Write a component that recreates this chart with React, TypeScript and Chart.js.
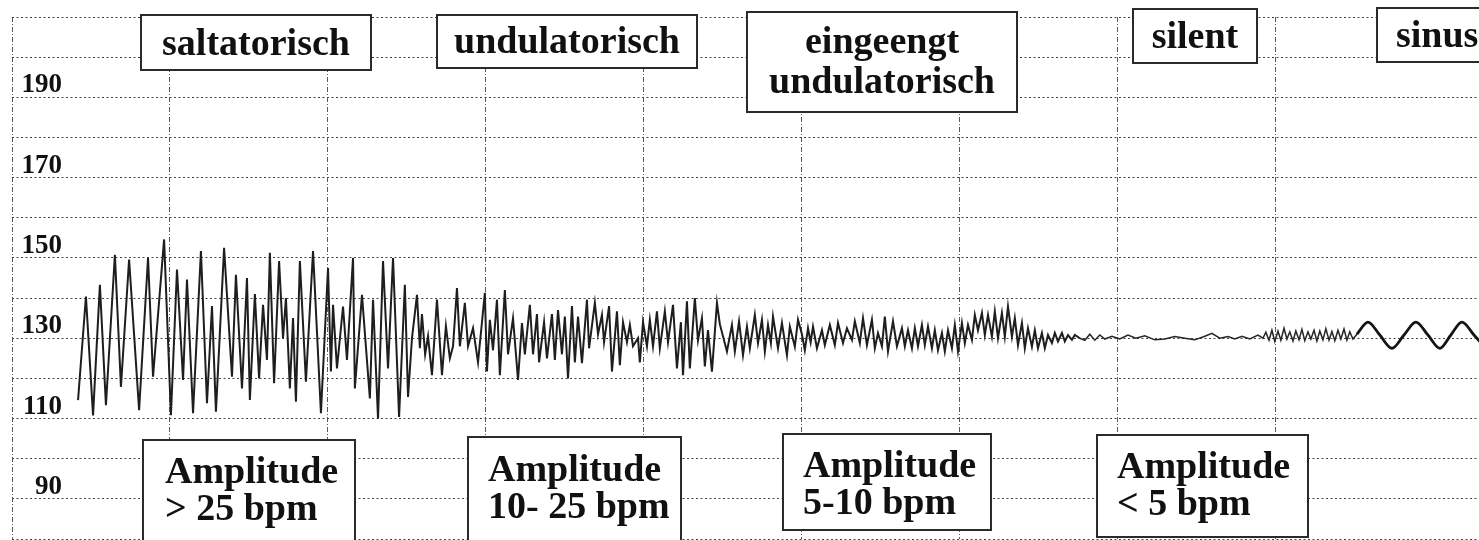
import React, { useEffect, useRef } from "react";
import { Chart, registerables } from "chart.js";

Chart.register(...registerables);

// ---- data (time in seconds, FHR in bpm) ----
const yTickLabels = [90, 110, 130, 150, 170, 190];

const saltatorischTrace: [number, number][] = [
  [25.1, 114.6], [28.1, 140.4], [30.8, 110.8], [33.4, 143.3], [35.7, 113.3], [39.1, 150.8], [41.4, 117.9],
  [44.5, 149.6], [48.3, 112.1], [51.7, 150], [53.6, 120.4], [57.8, 154.6], [60.4, 110.8], [62.7, 147.1],
  [65.0, 119.6], [66.5, 144.6], [68.8, 111.3], [71.8, 151.7], [74.1, 113.8], [76.0, 138], [77.5, 111.7],
  [80.6, 152.5], [83.6, 120.4], [85.1, 145.8], [87.4, 117.5], [89.3, 145], [90.4, 114.6], [92.3, 141],
  [93.9, 120], [95.4, 138.3], [96.9, 124.6], [98.0, 151.3], [99.6, 118.8], [101.5, 149.2], [103.0, 130],
  [104.1, 140], [105.6, 117.5], [106.8, 135], [107.9, 114.2], [109.4, 149.2], [111.7, 119.2], [114.4, 151.7],
  [117.4, 111.3], [120.1, 147.5], [121.2, 121.7], [122.0, 138.3], [123.5, 122.5], [125.8, 137.9], [127.3, 124.6],
  [129.6, 150], [130.3, 117.5], [133.0, 140.8], [136.0, 115], [137.2, 139.6], [139.1, 110], [141.0, 149.2],
  [142.9, 122.5], [144.8, 150], [147.1, 110.4], [149.3, 143.3], [150.5, 115.4],
];

const undulatorischTrace: [number, number][] = [
  [152.0, 130], [153.9, 140.8], [155.0, 127.5], [155.8, 136], [157.0, 126], [158.1, 130.5], [159.6, 120.8],
  [161.5, 139.6], [163.4, 120.8], [164.9, 133], [166.4, 125], [167.6, 128], [169.1, 142.5], [170.2, 128],
  [172.1, 138.8], [173.3, 128], [175.2, 132.5], [177.1, 124], [179.7, 141.3], [180.5, 121.7], [181.6, 134.6],
  [182.8, 127], [184.3, 139.6], [185.4, 120.8], [187.3, 142], [188.5, 126], [190.4, 135], [192.3, 119.6],
  [193.8, 133.8], [194.9, 126], [196.8, 138.3], [198.0, 126], [199.5, 136], [200.3, 124], [202.2, 134],
  [203.3, 125], [205.2, 136], [206.3, 124.6], [207.5, 137], [209.0, 126], [210.1, 135.4], [211.3, 120],
  [212.8, 138], [213.9, 124], [215.1, 135.4], [216.6, 123.8], [218.5, 139.6], [219.3, 127.5], [221.5, 138.8],
  [222.7, 131], [224.2, 135.8], [225.0, 129], [226.9, 138], [228.0, 121.7], [229.9, 136.7], [231.0, 123.3],
  [232.2, 134], [233.7, 129], [234.8, 133.3], [236.0, 128], [237.9, 130], [238.6, 124], [239.8, 134],
  [241.3, 128], [242.4, 134.6], [243.6, 128], [245.1, 136.7], [246.2, 127.5], [248.1, 136.7], [249.3, 129],
  [251.2, 138.3], [252.7, 122.5], [254.2, 134], [255.0, 120.8], [256.5, 139.2], [257.6, 122.5], [259.5, 140],
  [260.7, 129.5], [262.2, 135], [263.3, 123], [264.5, 132], [266.0, 121.7], [267.9, 138.8], [269.0, 133.5],
];

const eingeengtTrace: [number, number][] = [
  [271.7, 126.7], [273.6, 133.3], [274.7, 126.7], [276.3, 134.2], [277.8, 125.8], [279.3, 132.9], [280.4, 127.5],
  [282.3, 135.8], [283.5, 128.8], [285.0, 134.6], [286.1, 126.7], [287.3, 133.3], [288.4, 128.8], [289.2, 135.4],
  [291.1, 127.5], [292.6, 133.8], [294.5, 125.8], [295.6, 132.9], [297.5, 127.9], [298.7, 134.6], [300.2, 131],
  [301.3, 127], [302.5, 132.5], [303.5, 129], [304.4, 132.9], [305.9, 127.5], [307.8, 132], [308.9, 128.3],
  [310.8, 133.3], [312.7, 128.3], [313.9, 133.8], [315.8, 128.8], [317.3, 132.5], [319.2, 129.6], [320.3, 134.2],
  [322.2, 128.8], [323.4, 135], [324.9, 128.3], [326.8, 134.6], [327.9, 127.5], [329.1, 131.3], [330.6, 128],
  [331.7, 135.4], [332.9, 126.7], [334.8, 134.2], [336.3, 128], [338.2, 132.5], [339.3, 128], [340.5, 132],
  [342.0, 127.5], [343.1, 132.5], [344.3, 128], [345.8, 133.3], [346.9, 128.3], [348.1, 132.9], [349.6, 127.5],
  [350.7, 132], [351.9, 127], [353.4, 131.3], [354.5, 126.7], [355.7, 132], [357.2, 127.5], [358.3, 133.3],
  [359.5, 126.7], [361.0, 133.8], [362.1, 128.8], [363.3, 133.3], [364.8, 129.6], [365.9, 135.8], [367.1, 132],
  [368.6, 136.3], [369.7, 130.8], [370.9, 135.8], [372.4, 130.4], [373.5, 136.7], [374.7, 130], [376.2, 136.3],
  [377.3, 130.4], [378.5, 137.9], [380.0, 130.4], [381.1, 135], [382.3, 128.3], [383.8, 133.8], [384.9, 127.5],
  [386.1, 132.5], [387.6, 127.9], [388.7, 132], [389.9, 127.5], [391.4, 131.3], [392.5, 127.5], [393.7, 130.8],
  [395.2, 128.8], [396.3, 131.3], [397.5, 129.2], [399.0, 131.3], [400.1, 129.2], [401.3, 130.8], [402.8, 129.6],
  [403.9, 130.8], [405.8, 130],
];

const silentTrace: [number, number][] = [
  [407.7, 129.5], [409.6, 131], [411.5, 129.5], [413.4, 130.8], [415.3, 129.8], [418.0, 130.5], [421.0, 129.8],
  [424.1, 130.8], [427.1, 130], [430.5, 130.6], [434.3, 129.6], [438.1, 129.8], [441.9, 130.4], [445.7, 130],
  [449.5, 129.6], [453.3, 130.5], [456.0, 131.2], [459.0, 130], [462.1, 130.4], [464.7, 129.8], [467.4, 130.5],
  [470.4, 129.8], [473.5, 130.8], [475.4, 130],
  [476.5, 131.5], [477.7, 129.5], [478.8, 132], [479.9, 129.2], [481.1, 131.8], [482.2, 129.5], [483.4, 132.5],
  [484.5, 129.8], [485.6, 131.6], [486.8, 129.3], [487.9, 131.8], [489.1, 129.6], [490.2, 132.2], [491.3, 129.4],
  [492.5, 131.6], [493.6, 129.8], [494.8, 132], [495.9, 129.3], [497.0, 131.8], [498.2, 129.6], [499.3, 132.4],
  [500.5, 129.5], [501.6, 131.7], [502.7, 129.4], [503.9, 132], [505.0, 129.8], [506.2, 132.3], [507.3, 129.5],
  [508.4, 131.6], [509.6, 129.8], [511.1, 131],
];

const sinusTrace: [number, number][] = [
  [515.3, 134], [519.8, 130.8], [524.4, 127.5], [529.0, 130.8], [533.5, 134], [538.1, 130.8],
  [542.6, 127.5], [546.8, 130.8], [551.0, 134], [555.6, 130.8], [560.1, 127.5],
];

const topLabelLines: string[][] = [
  ["saltatorisch"],
  ["undulatorisch"],
  ["eingeengt", "undulatorisch"],
  ["silent"],
  ["sinusoidal"],
];

const bottomLabelLines: string[][] = [
  ["Amplitude", "> 25 bpm"],
  ["Amplitude", "10- 25 bpm"],
  ["Amplitude", "5-10 bpm"],
  ["Amplitude", "< 5 bpm"],
];

// ---- layout (pixels) ----
type Box = { x: number; y: number; w: number; h: number; textX: number; baselines: number[]; align: CanvasTextAlign };

const topBoxes: Box[] = [
  { x: 141, y: 15, w: 230, h: 55, textX: 256, baselines: [55], align: "center" },
  { x: 437, y: 15, w: 260, h: 53, textX: 567, baselines: [53], align: "center" },
  { x: 747, y: 12, w: 270, h: 100, textX: 882, baselines: [53, 93], align: "center" },
  { x: 1133, y: 9, w: 124, h: 54, textX: 1195, baselines: [48], align: "center" },
  { x: 1377, y: 8, w: 200, h: 54, textX: 1396, baselines: [47], align: "left" },
];

const bottomBoxes: Box[] = [
  { x: 143, y: 440, w: 212, h: 110, textX: 165, baselines: [483, 520], align: "left" },
  { x: 468, y: 437, w: 213, h: 110, textX: 488, baselines: [481, 518], align: "left" },
  { x: 783, y: 434, w: 208, h: 96, textX: 803, baselines: [477, 514], align: "left" },
  { x: 1097, y: 435, w: 211, h: 102, textX: 1117, baselines: [478, 515], align: "left" },
];

const SERIF = '"Liberation Serif", "Times New Roman", Times, serif';

const toPoints = (arr: [number, number][]) => arr.map(([x, y]) => ({ x, y }));

const annotationPlugin = {
  id: "ctgAnnotations",
  afterDraw(chart: any) {
    const ctx: CanvasRenderingContext2D = chart.ctx;
    const yScale = chart.scales.y;
    ctx.save();
    ctx.font = `bold 27px ${SERIF}`;
    ctx.fillStyle = "#111";
    ctx.textAlign = "right";
    ctx.textBaseline = "alphabetic";
    yTickLabels.forEach((v) => {
      ctx.fillText(String(v), 62, yScale.getPixelForValue(v) - 5);
    });

    const drawBox = (b: Box, lines: string[]) => {
      ctx.fillStyle = "#fff";
      ctx.fillRect(b.x, b.y, b.w, b.h);
      ctx.strokeStyle = "#2a2a2a";
      ctx.lineWidth = 2;
      ctx.setLineDash([]);
      ctx.strokeRect(b.x, b.y, b.w, b.h);
      ctx.fillStyle = "#111";
      ctx.font = `bold 38px ${SERIF}`;
      ctx.textAlign = b.align;
      lines.forEach((line, i) => ctx.fillText(line, b.textX, b.baselines[i]));
    };
    topBoxes.forEach((b, i) => drawBox(b, topLabelLines[i]));
    bottomBoxes.forEach((b, i) => drawBox(b, bottomLabelLines[i]));
    ctx.restore();
  },
};

export default function App() {
  const canvasRef = useRef<HTMLCanvasElement | null>(null);

  useEffect(() => {
    if (!canvasRef.current) return;
    const variableTrace = [...saltatorischTrace, ...undulatorischTrace, ...eingeengtTrace];
    const lastVar = variableTrace[variableTrace.length - 1];
    const lastSilent = silentTrace[silentTrace.length - 1];
    const chart = new Chart(canvasRef.current, {
      type: "line",
      data: {
        datasets: [
          {
            data: toPoints(variableTrace),
            borderColor: "#1e1e1e",
            borderWidth: 2,
            pointRadius: 0,
            tension: 0,
          },
          {
            data: toPoints([lastVar, ...silentTrace]),
            borderColor: "#262626",
            borderWidth: 1.5,
            pointRadius: 0,
            tension: 0,
          },
          {
            data: toPoints([lastSilent, ...sinusTrace]),
            borderColor: "#151515",
            borderWidth: 2.8,
            pointRadius: 0,
            cubicInterpolationMode: "monotone",
          },
        ],
      },
      options: {
        animation: false,
        responsive: false,
        events: [],
        layout: { padding: { left: 12, top: 17, right: 0, bottom: 1 } },
        plugins: { legend: { display: false }, tooltip: { enabled: false } },
        scales: {
          x: {
            type: "linear",
            min: 0,
            max: 557.5,
            ticks: { display: false, stepSize: 60 },
            grid: { color: "#5a5a5a", lineWidth: 1, drawTicks: false },
            border: { display: false, dash: [5, 2, 1, 2] },
            afterBuildTicks: (s: any) => {
              s.ticks = s.ticks.filter((t: any) => t.value % 60 === 0);
            },
            afterFit: (s: any) => {
              s.height = 0;
            },
          },
          y: {
            type: "linear",
            min: 80,
            max: 210,
            ticks: { display: false, stepSize: 10 },
            grid: { color: "#444", lineWidth: 1, drawTicks: false },
            border: { display: false, dash: [2, 2.5] },
            afterFit: (s: any) => {
              s.width = 0;
            },
          },
        },
      } as any,
      plugins: [annotationPlugin],
    });
    return () => chart.destroy();
  }, []);

  return (
    <div style={{ position: "fixed", left: 0, top: 0, width: 1479, height: 540, background: "#fff" }}>
      <canvas ref={canvasRef} width={1479} height={540} style={{ display: "block", width: 1479, height: 540 }} />
    </div>
  );
}
